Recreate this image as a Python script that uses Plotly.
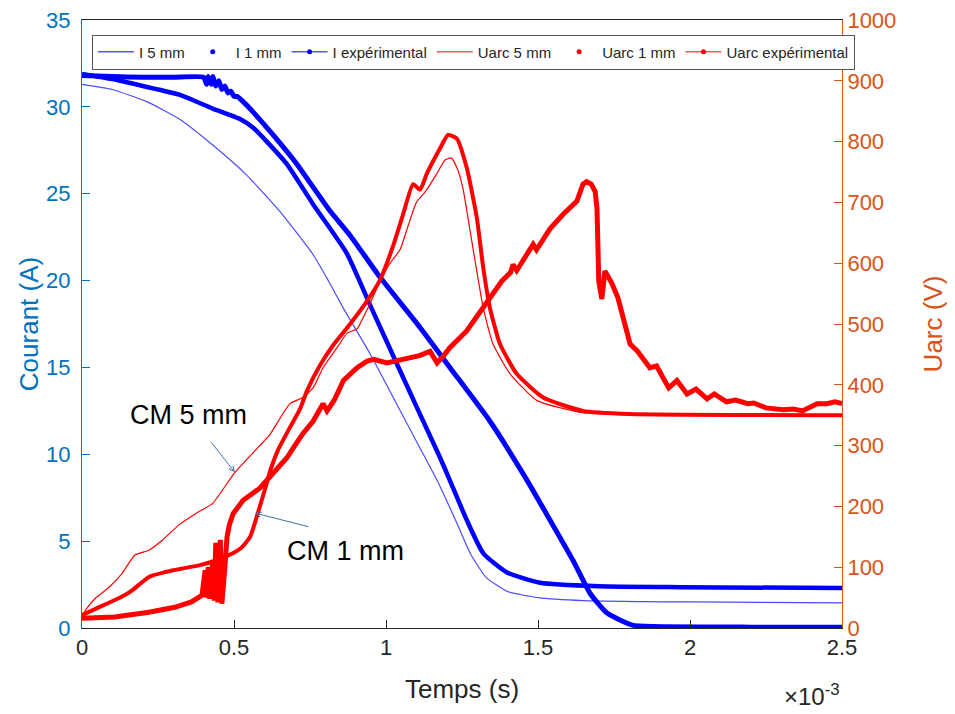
import plotly.graph_objects as go

# ---------------- data (time in ms, shown with x10^-3 s) ----------------
t_i5 = [0, 0.1, 0.213, 0.32, 0.43, 0.54, 0.65, 0.76, 0.81, 0.86, 0.947, 1.056, 1.135,
        1.168, 1.234, 1.28, 1.33, 1.40, 1.50, 1.65, 2.0, 2.5]
i_5mm = [31.3, 31.0, 30.3, 29.3, 27.8, 26.1, 24.0, 21.5, 20.0, 18.4, 15.8, 12.2, 9.6,
         8.5, 6.0, 4.2, 2.9, 2.1, 1.75, 1.58, 1.5, 1.45]

t_i1 = [0, 0.1, 0.2, 0.32, 0.43, 0.52, 0.563, 0.608, 0.674, 0.76, 0.87, 0.95, 1.036,
        1.112, 1.178, 1.21, 1.266, 1.32, 1.398, 1.507, 1.70, 1.97, 2.5]
i_1mm = [31.9, 31.6, 31.2, 30.7, 29.9, 29.3, 28.8, 28.0, 26.7, 24.4, 21.6, 18.5, 15.2,
         12.3, 9.8, 8.5, 6.2, 4.3, 3.2, 2.6, 2.4, 2.35, 2.3]

t_iexp = [0, 0.1, 0.2, 0.3, 0.40, 0.41, 0.415, 0.425, 0.43, 0.44, 0.45, 0.46, 0.47,
          0.48, 0.49, 0.50, 0.51, 0.53, 0.563, 0.628, 0.707, 0.816, 0.882, 0.98, 1.112,
          1.21, 1.342, 1.464, 1.54, 1.615, 1.671, 1.727, 1.81, 1.88, 2.2, 2.5]
i_exp = [31.8, 31.75, 31.7, 31.7, 31.7, 31.3, 31.75, 31.3, 31.75, 31.2, 31.5, 31.0, 31.2,
         30.8, 30.9, 30.6, 30.6, 30.3, 29.7, 28.4, 26.7, 24.0, 22.6, 20.2, 17.3,
         15.0, 11.9, 8.5, 6.2, 3.9, 2.0, 0.86, 0.17, 0.08, 0.05, 0.05]

t_u5 = [0, 0.02, 0.044, 0.089, 0.132, 0.174, 0.22, 0.263, 0.32, 0.38, 0.43, 0.50, 0.585,
        0.618, 0.684, 0.727, 0.76, 0.793, 0.839, 0.872, 0.905, 0.924, 0.947, 0.98, 1.013,
        1.046, 1.075, 1.10, 1.13, 1.168, 1.195, 1.215, 1.235, 1.253, 1.286, 1.32, 1.352,
        1.408, 1.497, 1.648, 1.8, 2.5]
u_5mm = [20, 35, 49, 67, 90, 120, 128, 144, 170, 190, 205, 254, 300,
         318, 369, 379, 395, 428, 461, 485, 492, 510, 533, 570, 600,
         622, 665, 700, 718, 748, 770, 773, 755, 723, 625, 526, 467,
         418, 374, 354, 351, 350]

t_u1 = [0, 0.055, 0.108, 0.14, 0.165, 0.22, 0.274, 0.33, 0.385, 0.44, 0.484, 0.526, 0.553,
        0.57, 0.585, 0.60, 0.62, 0.645, 0.684, 0.717, 0.74, 0.783, 0.826, 0.882, 0.938,
        0.98, 1.023, 1.056, 1.089, 1.112, 1.135, 1.178, 1.204, 1.233, 1.266, 1.299, 1.32,
        1.342, 1.375, 1.43, 1.517, 1.648, 1.8, 2.5]
u_1mm = [21, 34, 46, 54, 62, 84, 92, 98, 103, 111, 120, 133, 150,
         175, 200, 225, 260, 293, 330, 360, 390, 432, 465, 500, 538,
         572, 628, 680, 730, 721, 748, 789, 811, 805, 756, 674, 592,
         526, 467, 418, 379, 357, 352, 350]

t_uexp = [0, 0.108, 0.22, 0.305, 0.36, 0.395, 0.405, 0.41, 0.415, 0.42, 0.43, 0.435, 0.44,
          0.447, 0.455, 0.46, 0.47, 0.477, 0.485, 0.497, 0.53, 0.563, 0.585, 0.608, 0.64,
          0.674, 0.70, 0.727, 0.76, 0.793, 0.806, 0.83, 0.86, 0.905, 0.938, 0.96, 1.003,
          1.04, 1.079, 1.11, 1.145, 1.168, 1.19, 1.21, 1.266, 1.342, 1.38, 1.41, 1.418,
          1.43, 1.484, 1.495, 1.54, 1.582, 1.628, 1.648, 1.66, 1.675, 1.688, 1.694, 1.697,
          1.70, 1.71, 1.72, 1.743, 1.763, 1.803, 1.826, 1.868, 1.89, 1.93, 1.957, 1.99,
          2.02, 2.056, 2.08, 2.12, 2.15, 2.19, 2.21, 2.25, 2.306, 2.34, 2.37, 2.418,
          2.45, 2.477, 2.5]
u_exp = [16, 18, 26, 34, 43, 54, 95, 50, 100, 48, 110, 45, 140,
         42, 145, 40, 100, 150, 170, 188, 210, 221, 230, 243, 262,
         280, 300, 320, 340, 369, 357, 375, 407, 428, 439, 442, 436,
         440, 443, 448, 455, 436, 448, 461, 489, 543, 570, 585, 598,
         588, 631, 622, 657, 680, 702, 730, 734, 730, 718, 690, 620,
         570, 541, 587, 567, 543, 467, 456, 428, 431, 395, 407, 385,
         393, 377, 385, 372, 375, 369, 370, 362, 359, 360, 357, 369,
         369, 372, 369]

x_ticks = [0, 0.5, 1, 1.5, 2, 2.5]
x_ticklabels = ["0", "0.5", "1", "1.5", "2", "2.5"]

# ---------------- styling ----------------
FONT = "Liberation Sans, Arial, Helvetica, sans-serif"
BLUE = "#0000FF"
RED = "#FF0000"
AX_BLUE = "#0072BD"
AX_ORANGE = "#D95319"
AX_DARK = "#262626"

fig = go.Figure()

SM = dict(shape="spline", smoothing=0.5)
# current traces (left axis)
fig.add_trace(go.Scatter(x=t_i5, y=i_5mm, mode="lines", line=dict(color=BLUE, width=1.2, **SM),
                         opacity=0.7, showlegend=False, yaxis="y"))
fig.add_trace(go.Scatter(x=t_i1, y=i_1mm, mode="lines", line=dict(color=BLUE, width=4.5, **SM),
                         showlegend=False, yaxis="y"))
fig.add_trace(go.Scatter(x=t_iexp, y=i_exp, mode="lines", line=dict(color=BLUE, width=5, **SM),
                         showlegend=False, yaxis="y"))
# voltage traces (right axis)
fig.add_trace(go.Scatter(x=t_u5, y=u_5mm, mode="lines", line=dict(color=RED, width=1.2, **SM),
                         showlegend=False, yaxis="y2"))
fig.add_trace(go.Scatter(x=t_u1, y=u_1mm, mode="lines", line=dict(color=RED, width=4, **SM),
                         showlegend=False, yaxis="y2"))
fig.add_trace(go.Scatter(x=t_uexp, y=u_exp, mode="lines", line=dict(color=RED, width=5),
                         showlegend=False, yaxis="y2"))

# legend entries (MATLAB style symbols)
legend_specs = [
    ("I 5 mm", "lines", BLUE),
    ("I 1 mm", "markers", BLUE),
    ("I expérimental", "lines+markers", BLUE),
    ("Uarc 5 mm", "lines", RED),
    ("Uarc 1 mm", "markers", RED),
    ("Uarc expérimental", "lines+markers", RED),
]
for name, mode, col in legend_specs:
    fig.add_trace(go.Scatter(x=[None], y=[None], mode=mode, name=name,
                             line=dict(color=col, width=1),
                             marker=dict(color=col, size=5),
                             showlegend=True))

# page body has an 8px margin: figure sized so the plot area lands at x 82-842, y ~20-628
fig.update_layout(
    width=947, height=708,
    margin=dict(l=74, r=113, t=12, b=88, autoexpand=False),
    paper_bgcolor="white", plot_bgcolor="white",
    font=dict(family=FONT, color=AX_DARK),
    xaxis=dict(range=[0, 2.5], tickvals=x_ticks, ticktext=x_ticklabels, automargin=False,
               ticklabeloverflow="allow",
               ticks="inside", ticklen=8, tickcolor=AX_DARK, showline=True,
               linecolor=AX_DARK, linewidth=1, mirror=True, showgrid=False, zeroline=False,
               tickfont=dict(family=FONT, size=22, color=AX_DARK),
               title=dict(text="Temps (s)", font=dict(family=FONT, size=26, color=AX_DARK),
                          standoff=20)),
    yaxis=dict(range=[0, 35], dtick=5, ticks="inside", ticklen=8, tickcolor=AX_BLUE,
               automargin=False, ticklabelstandoff=6, ticklabeloverflow="allow",
               showline=True, linecolor=AX_BLUE, linewidth=1, showgrid=False, zeroline=False,
               tickfont=dict(family=FONT, size=22, color=AX_BLUE),
               title=dict(text="Courant (A)", font=dict(family=FONT, size=26, color=AX_BLUE),
                          standoff=0)),
    yaxis2=dict(range=[0, 1000], dtick=100, overlaying="y", side="right", anchor="x",
                automargin=False, ticklabeloverflow="allow",
                ticks="inside", ticklen=8, tickcolor=AX_ORANGE, showline=True,
                linecolor=AX_ORANGE, linewidth=1, showgrid=False, zeroline=False,
                tickfont=dict(family=FONT, size=22, color=AX_ORANGE),
                title=dict(text="Uarc (V)", font=dict(family=FONT, size=26, color=AX_ORANGE),
                           standoff=28)),
    legend=dict(orientation="h", x=0.013, y=0.976, xanchor="left", yanchor="top",
                bgcolor="white", bordercolor="#555555", borderwidth=1,
                font=dict(family=FONT, size=15, color=AX_DARK),
                itemwidth=36, tracegroupgap=0),
    showlegend=True,
)

ARROW_COL = "#41719C"
annotations = [
    dict(x=0.349, y=351, xref="x", yref="y2", text="CM 5 mm", showarrow=False,
         font=dict(family=FONT, size=27, color="black")),
    dict(x=0.503, y=256, ax=0.421, ay=308, xref="x", yref="y2", axref="x", ayref="y2",
         text="", showarrow=True, arrowhead=5, arrowsize=1, arrowwidth=1, arrowcolor=ARROW_COL),
    dict(x=0.868, y=126, xref="x", yref="y2", text="CM 1 mm", showarrow=False,
         font=dict(family=FONT, size=27, color="black")),
    dict(x=0.569, y=189, ax=0.75, ay=166, xref="x", yref="y2", axref="x", ayref="y2",
         text="", showarrow=True, arrowhead=5, arrowsize=1, arrowwidth=1, arrowcolor=ARROW_COL),
    dict(x=1.0, y=-0.11, xref="paper", yref="paper", xanchor="right", yanchor="middle",
         text="×10<sup>-3</sup>", showarrow=False,
         font=dict(family=FONT, size=24, color=AX_DARK)),
]
fig.update_layout(annotations=annotations)

fig.write_html("out.html")
